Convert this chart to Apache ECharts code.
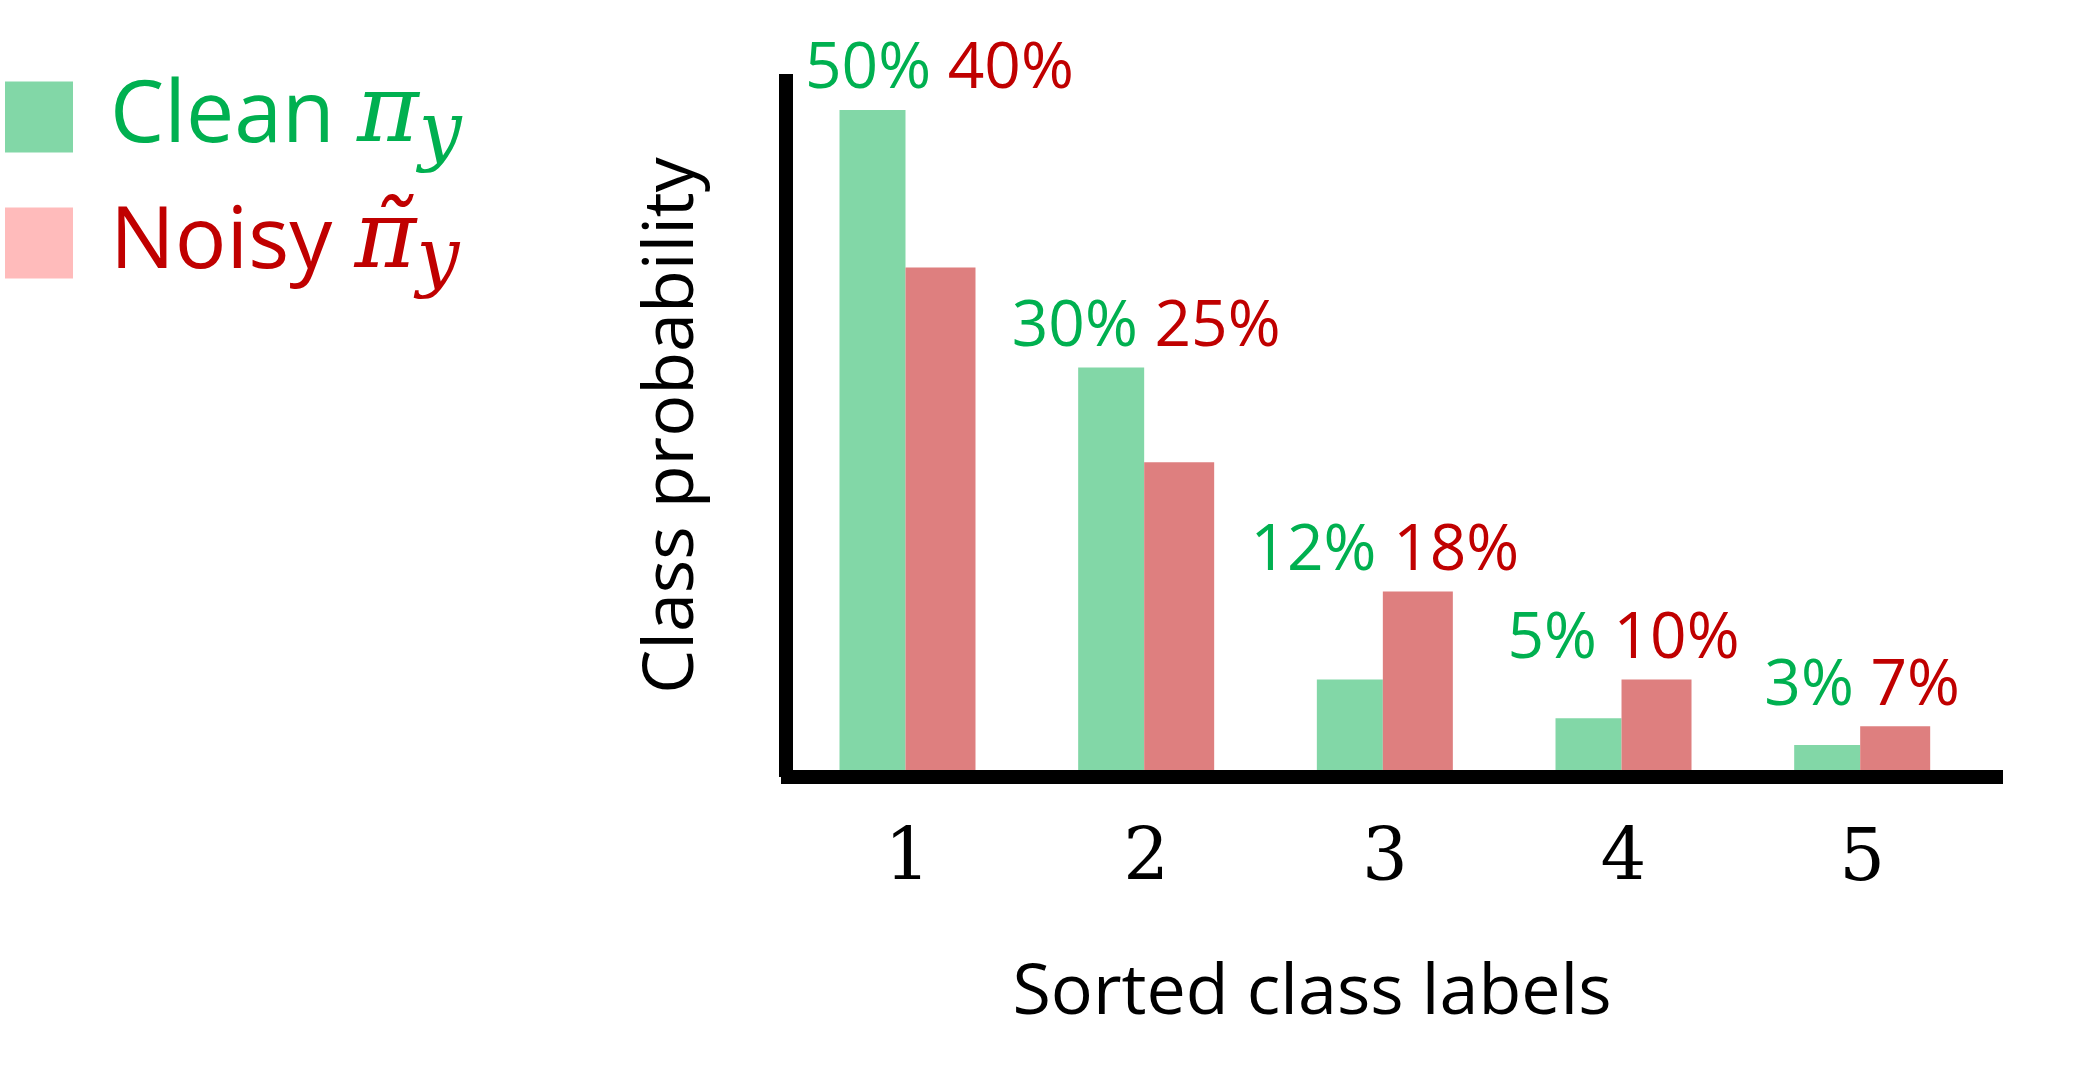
<!DOCTYPE html>
<html>
<head>
<meta charset="utf-8">
<script src="https://cdn.jsdelivr.net/npm/echarts@6/dist/echarts.min.js"></script>
<style>
html,body{margin:0;padding:0;background:#fff;}
#chart{width:2074px;height:1087px;}
</style>
</head>
<body>
<div id="chart"></div>
<script>
// ---- data ----
const classLabels = ['1', '2', '3', '4', '5'];
// drawn bar heights (as seen in the picture, in % units)
const cleanValues = [50, 30.7, 7.3, 4.4, 2.4];
const noisyValues = [38.2, 23.6, 13.9, 7.3, 3.8];
// printed value labels
const cleanText = ['50%', '30%', '12%', '5%', '3%'];
const noisyText = ['40%', '25%', '18%', '10%', '7%'];

const GREEN_BAR = '#82D7A7';
const RED_BAR = '#DE7F7F';
const GREEN_TXT = '#00B050';
const RED_TXT = '#C00000';
const PINK_LEG = '#FFBBBB';
const SANS = '"Open Sans", "Noto Sans", sans-serif';
const SERIF = '"DejaVu Serif", "Liberation Serif", serif';

const GRID_LEFT = 781;
const AXIS_CLEAR = 24; // keep value labels clear of the thick y axis line

const xs = classLabels.map((_, i) => i + 1);
const cleanData = xs.map((x, i) => [x, cleanValues[i]]);
const noisyData = xs.map((x, i) => [x, noisyValues[i]]);
const labelData = xs.map((x, i) => [x, Math.max(cleanValues[i], noisyValues[i]), i]);

const chart = echarts.init(document.getElementById('chart'), null, {renderer: 'canvas'});

function legendStyles(color) {
  return {
    t: {fontFamily: SANS, fontSize: 86, color: color, lineHeight: 80, padding: [0, 0, 0, 32]},
    m: {fontFamily: SERIF, fontStyle: 'italic', fontSize: 94, color: color, lineHeight: 80},
    s: {fontFamily: SERIF, fontStyle: 'italic', fontSize: 76, color: color, lineHeight: 40, height: 42, verticalAlign: 'bottom'}
  };
}
const gS = legendStyles(GREEN_TXT), rS = legendStyles(RED_TXT);
const legendRich = {tg: gS.t, mg: gS.m, sg: gS.s, tr: rS.t, mr: rS.m, sr: rS.s};

const option = {
  animation: false,
  backgroundColor: '#ffffff',
  legend: {
    orient: 'vertical',
    left: 5,
    top: 70,
    padding: 0,
    itemGap: 22,
    itemWidth: 68,
    itemHeight: 71,
    selectedMode: false,
    icon: 'rect',
    data: [
      {name: 'Clean', itemStyle: {color: GREEN_BAR}},
      {name: 'Noisy', itemStyle: {color: PINK_LEG}}
    ],
    formatter: function (name) {
      if (name === 'Clean') return '{tg|Clean }{mg|\u03C0}{sg|y}';
      return '{tr|Noisy }{mr|\u03C0\u0303}{sr|y}';
    },
    textStyle: {rich: legendRich}
  },
  grid: {left: GRID_LEFT, right: 71, top: 74, bottom: 310, containLabel: false},
  xAxis: {
    type: 'value',
    min: 0.47,
    max: 5.59,
    z: 10,
    name: 'Sorted class labels',
    nameLocation: 'middle',
    nameGap: 182,
    nameTextStyle: {fontFamily: SANS, fontSize: 70, color: '#000', verticalAlign: 'top', padding: [0, 160, 0, 0]},
    axisLine: {show: true, lineStyle: {color: '#000', width: 14, cap: 'butt'}},
    axisTick: {show: false},
    splitLine: {show: false},
    axisLabel: {
      show: true,
      customValues: xs,
      margin: 48,
      fontFamily: SERIF,
      fontSize: 72,
      color: '#000',
      formatter: function (v) { return classLabels[Math.round(v) - 1] || ''; }
    }
  },
  yAxis: {
    type: 'value',
    min: 0,
    max: 52.7,
    offset: -5,
    z: 10,
    name: 'Class probability',
    nameLocation: 'middle',
    nameGap: 78,
    nameRotate: 90,
    nameTextStyle: {fontFamily: SANS, fontSize: 70, color: '#000'},
    axisLine: {show: true, lineStyle: {color: '#000', width: 14, cap: 'butt'}},
    axisTick: {show: false},
    splitLine: {show: false},
    axisLabel: {show: false}
  },
  series: [
    {
      name: 'Clean',
      type: 'bar',
      data: cleanData,
      barWidth: 66,
      barGap: '0%',
      itemStyle: {color: GREEN_BAR},
      z: 2
    },
    {
      name: 'Noisy',
      type: 'bar',
      data: noisyData,
      barWidth: 70,
      barGap: '0%',
      itemStyle: {color: RED_BAR},
      z: 2
    },
    {
      name: 'labels',
      type: 'scatter',
      data: labelData,
      symbolSize: 0,
      silent: true,
      z: 3,
      itemStyle: {opacity: 1},
      label: {
        show: true,
        position: 'top',
        distance: 8,
        formatter: function (p) {
          const i = p.data[2];
          return '{g|' + cleanText[i] + '} {r|' + noisyText[i] + '}';
        },
        rich: {
          g: {fontFamily: SANS, fontSize: 64, color: GREEN_TXT},
          r: {fontFamily: SANS, fontSize: 64, color: RED_TXT}
        },
        fontFamily: SANS,
        fontSize: 64
      },
      labelLayout: function (params) {
        const minX = GRID_LEFT + AXIS_CLEAR;
        const r = params.labelRect;
        return {dx: Math.max(0, minX - r.x)};
      }
    }
  ]
};

chart.setOption(option);
</script>
</body>
</html>
